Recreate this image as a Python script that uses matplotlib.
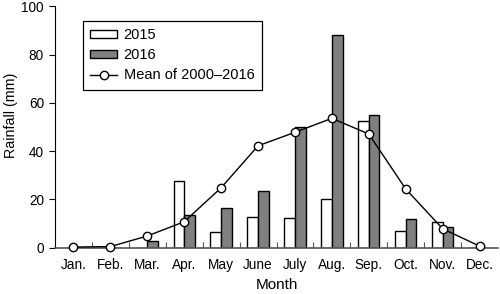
import matplotlib
matplotlib.use("Agg")
import matplotlib.pyplot as plt
import numpy as np

plt.rcParams['font.family'] = ['Liberation Sans', 'DejaVu Sans']

months = ["Jan.", "Feb.", "Mar.", "Apr.", "May", "June", "July", "Aug.", "Sep.", "Oct.", "Nov.", "Dec."]
rain_2015 = [0, 0, 0, 27.6, 6.6, 12.5, 12.2, 20.1, 52.3, 6.7, 10.4, 0]
rain_2016 = [0, 0, 2.7, 13.5, 16.4, 23.4, 50.2, 88.2, 55.0, 12.0, 8.5, 0]
mean_2000_2016 = [0.2, 0.4, 4.8, 10.7, 24.8, 42.2, 47.8, 53.6, 47.1, 24.3, 7.8, 0.6]
yticks = [0, 20, 40, 60, 80, 100]

fig = plt.figure(figsize=(5.0, 2.94), dpi=100)
ax = fig.add_axes([0.11, 0.158, 0.886, 0.82])

x = np.arange(1, len(months) + 1)
w = 0.29
ax.bar(x - w / 2, rain_2015, width=w, color='white', edgecolor='black', linewidth=1.0, label='2015', zorder=2)
ax.bar(x + w / 2, rain_2016, width=w, color='#808080', edgecolor='black', linewidth=1.0, label='2016', zorder=2)
ax.plot(x, mean_2000_2016, color='black', linewidth=1.0, marker='o', markersize=6,
        markerfacecolor='white', markeredgecolor='black', markeredgewidth=1.0,
        label='Mean of 2000\u20132016', zorder=3, clip_on=False)

ax.set_xlim(0.5, 12.5)
ax.set_ylim(0, 100)
ax.set_yticks(yticks)
ax.set_yticklabels([str(v) for v in yticks], fontsize=9.8)
ax.set_xticks(x)
ax.set_xticklabels(months, fontsize=9.8)
ax.tick_params(axis='x', length=0, pad=7.5)
ax.tick_params(axis='y', direction='out', length=4, width=0.8, pad=4)
ax.set_xticks(np.arange(1.5, 12.5, 1.0), minor=True)
ax.tick_params(axis='x', which='minor', direction='in', length=4, width=0.8, color='#555555')

for s in ['top', 'right']:
    ax.spines[s].set_visible(False)
ax.spines['left'].set_linewidth(0.8)
ax.spines['bottom'].set_linewidth(1.2)
ax.spines['bottom'].set_color('#555555')

ax.set_ylabel('Rainfall (mm)', fontsize=10.3)
ax.yaxis.set_label_coords(-0.084, 0.548)
ax.set_xlabel('Month', fontsize=11)
ax.xaxis.set_label_coords(0.5, -0.128)

handles, labels = ax.get_legend_handles_labels()
order = [labels.index('2015'), labels.index('2016'), labels.index('Mean of 2000\u20132016')]
leg = ax.legend([handles[i] for i in order], [labels[i] for i in order],
                loc='upper left', bbox_to_anchor=(0.063, 0.94), fontsize=10.5, frameon=True,
                fancybox=False, edgecolor='black', framealpha=1, borderpad=0.5,
                handlelength=1.85, handleheight=0.45, handletextpad=0.45,
                labelspacing=0.42, borderaxespad=0)
leg.get_frame().set_linewidth(0.9)

fig.savefig('out.png', dpi=100)
